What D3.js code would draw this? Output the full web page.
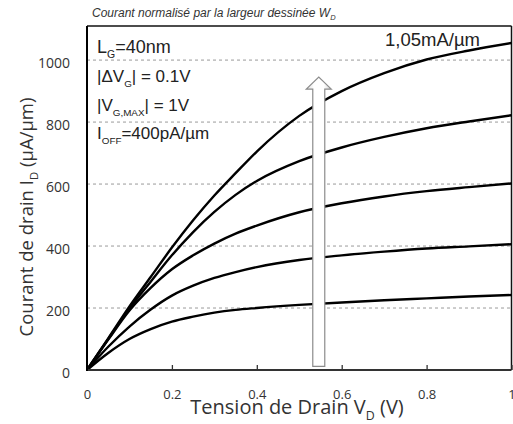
<!DOCTYPE html>
<html><head><meta charset="utf-8">
<script src="https://cdn.jsdelivr.net/npm/d3@7/dist/d3.min.js"></script>
<style>
html,body{margin:0;padding:0;background:#fff;}
svg{display:block;}
</style></head>
<body>
<svg id="chart" width="513" height="424"></svg>
<script>
// ---- data ----
const vd = [0, 0.05, 0.1, 0.15, 0.2, 0.25, 0.3, 0.35, 0.4, 0.5, 0.6, 0.7, 0.8, 0.9, 1.0];
const idVg10 = [0, 102, 205, 300, 395, 483, 563, 635, 705, 820, 900, 958, 1002, 1031, 1055];
const idVg09 = [0, 100, 198, 285, 370, 445, 510, 565, 610, 674, 718, 752, 780, 802, 822];
const idVg08 = [0, 98, 192, 265, 325, 370, 408, 440, 466, 509, 538, 560, 577, 590, 602];
const idVg07 = [0, 75, 140, 195, 240, 272, 297, 316, 332, 355, 370, 382, 392, 399, 406];
const idVg06 = [0, 55, 100, 132, 156, 172, 185, 194, 200, 210, 218, 225, 231, 237, 242];
const seriesList = [idVg10, idVg09, idVg08, idVg07, idVg06];
const xTickValues = [0, 0.2, 0.4, 0.6, 0.8, 1];
const xTickLabels = ["0", "0.2", "0.4", "0.6", "0.8", "1"];
const yTickValues = [0, 200, 400, 600, 800, 1000];
const gridValues = [200, 400, 600, 800, 1000];
const arrowVd = 0.546;
const arrowRange = [12, 945];

// ---- layout ----
const svg = d3.select("#chart");
const L = 87, R = 511.5, T = 26, B = 370;
const x = d3.scaleLinear().domain([0, 1]).range([L, R]);
const y = d3.scaleLinear().domain([0, 1110]).range([B, T]);

function richText(g, parts, size, family, extra, subScale) {
  const ss = subScale || 0.62;
  const t = g.append("text").attr("font-size", size).attr("font-family", family);
  if (extra) extra(t);
  let shifted = false;
  parts.forEach(p => {
    const ts = t.append("tspan").text(p.t);
    if (p.sub) {
      ts.attr("dy", size * 0.28).attr("font-size", size * ss);
      shifted = true;
    } else if (shifted) {
      ts.attr("dy", -size * 0.28);
      shifted = false;
    }
  });
  return t;
}

// title
richText(svg, [{t: "Courant normalisé par la largeur dessinée W"}, {t: "D", sub: true}], 12,
  "Liberation Sans, Arial, sans-serif",
  t => t.attr("x", 92).attr("y", 17).attr("font-style", "italic").attr("fill", "#333"));

// grid
svg.append("g").selectAll("line").data(gridValues).join("line")
  .attr("x1", L).attr("x2", R)
  .attr("y1", d => y(d)).attr("y2", d => y(d))
  .attr("stroke", "#9a9a9a").attr("stroke-width", 1).attr("stroke-dasharray", "3,3");

// frame top/right
svg.append("line").attr("x1", L).attr("x2", R).attr("y1", T).attr("y2", T).attr("stroke", "#111").attr("stroke-width", 1.5);
svg.append("line").attr("x1", R).attr("x2", R).attr("y1", T).attr("y2", B).attr("stroke", "#111").attr("stroke-width", 1.5);

// curves
const line = d3.line().x((d, i) => x(vd[i])).y(d => y(d)).curve(d3.curveMonotoneX);
svg.append("g").selectAll("path").data(seriesList).join("path")
  .attr("d", d => line(d))
  .attr("fill", "none").attr("stroke", "#000").attr("stroke-width", 2.4)
  .attr("stroke-linejoin", "round");

// arrow
{
  const cx = x(arrowVd), yb = y(arrowRange[0]), yt = y(arrowRange[1]);
  const sw = 6, hw = 12.5, hh = 12;
  const pts = [[cx - sw, yb], [cx - sw, yt + hh], [cx - hw, yt + hh], [cx, yt], [cx + hw, yt + hh], [cx + sw, yt + hh], [cx + sw, yb]];
  const defs = svg.append("defs");
  const grad = defs.append("linearGradient").attr("id", "ag").attr("x1", "0").attr("x2", "1").attr("y1", "0").attr("y2", "0");
  grad.append("stop").attr("offset", "0").attr("stop-color", "#d8d8d8");
  grad.append("stop").attr("offset", "0.3").attr("stop-color", "#ffffff");
  grad.append("stop").attr("offset", "0.7").attr("stop-color", "#ffffff");
  grad.append("stop").attr("offset", "1").attr("stop-color", "#d0d0d0");
  svg.append("path").attr("d", "M" + pts.map(p => p.join(",")).join("L") + "Z")
    .attr("fill", "url(#ag)").attr("stroke", "#8c8c8c").attr("stroke-width", 1.2);
}

// axes
const xAxis = d3.axisBottom(x).tickValues(xTickValues).tickFormat((d, i) => xTickLabels[i])
  .tickSizeInner(-5).tickSizeOuter(0).tickPadding(20);
const gx = svg.append("g").attr("transform", `translate(0,${B})`).call(xAxis);
gx.select(".domain").remove();
gx.selectAll(".tick line").attr("stroke", "#333").attr("stroke-width", 1.3);
gx.selectAll("text").attr("font-family", "Open Sans, sans-serif").attr("font-size", 13).attr("fill", "#333");

const yAxis = d3.axisLeft(y).tickValues(yTickValues).tickFormat(d3.format("d")).tickSize(0).tickPadding(17);
const gy = svg.append("g").attr("transform", `translate(${L},0)`).call(yAxis);
gy.select(".domain").remove();
gy.selectAll("text").attr("font-family", "Open Sans, sans-serif").attr("font-size", 14).attr("fill", "#333").attr("dy", "0.5em");

// axis lines
svg.append("line").attr("x1", L).attr("x2", R).attr("y1", B).attr("y2", B).attr("stroke", "#333").attr("stroke-width", 2);
svg.append("line").attr("x1", L).attr("x2", L).attr("y1", T).attr("y2", B + 1).attr("stroke", "#000").attr("stroke-width", 2);

// axis titles
richText(svg, [{t: "Tension de Drain V"}, {t: "D", sub: true}, {t: " (V)"}], 20,
  "Open Sans, sans-serif",
  t => t.attr("x", 297).attr("y", 414).attr("text-anchor", "middle").attr("fill", "#333"));
richText(svg, [{t: "Courant de drain I"}, {t: "D", sub: true}, {t: " (µA/µm)"}], 18.5,
  "Open Sans, sans-serif",
  t => t.attr("transform", "translate(33,217) rotate(-90)").attr("text-anchor", "middle").attr("fill", "#333"));

// annotations
const annFam = "Liberation Sans, Arial, sans-serif";
const ann = [
  [{t: "L"}, {t: "G", sub: true}, {t: "=40nm"}],
  [{t: "|ΔV"}, {t: "G", sub: true}, {t: "| = 0.1V"}],
  [{t: "|V"}, {t: "G,MAX", sub: true}, {t: "| = 1V"}],
  [{t: "I"}, {t: "OFF", sub: true}, {t: "=400pA/µm"}]
];
const annY = [53, 82, 111, 139];
const annSize = [18, 17, 17, 17];
ann.forEach((parts, i) => {
  richText(svg, parts, annSize[i], annFam, t => t.attr("x", 97).attr("y", annY[i]).attr("fill", "#222"), 0.58);
});
richText(svg, [{t: "1,05mA/µm"}], 18.5, annFam, t => t.attr("x", 385).attr("y", 46).attr("fill", "#222"));
</script>
</body></html>
